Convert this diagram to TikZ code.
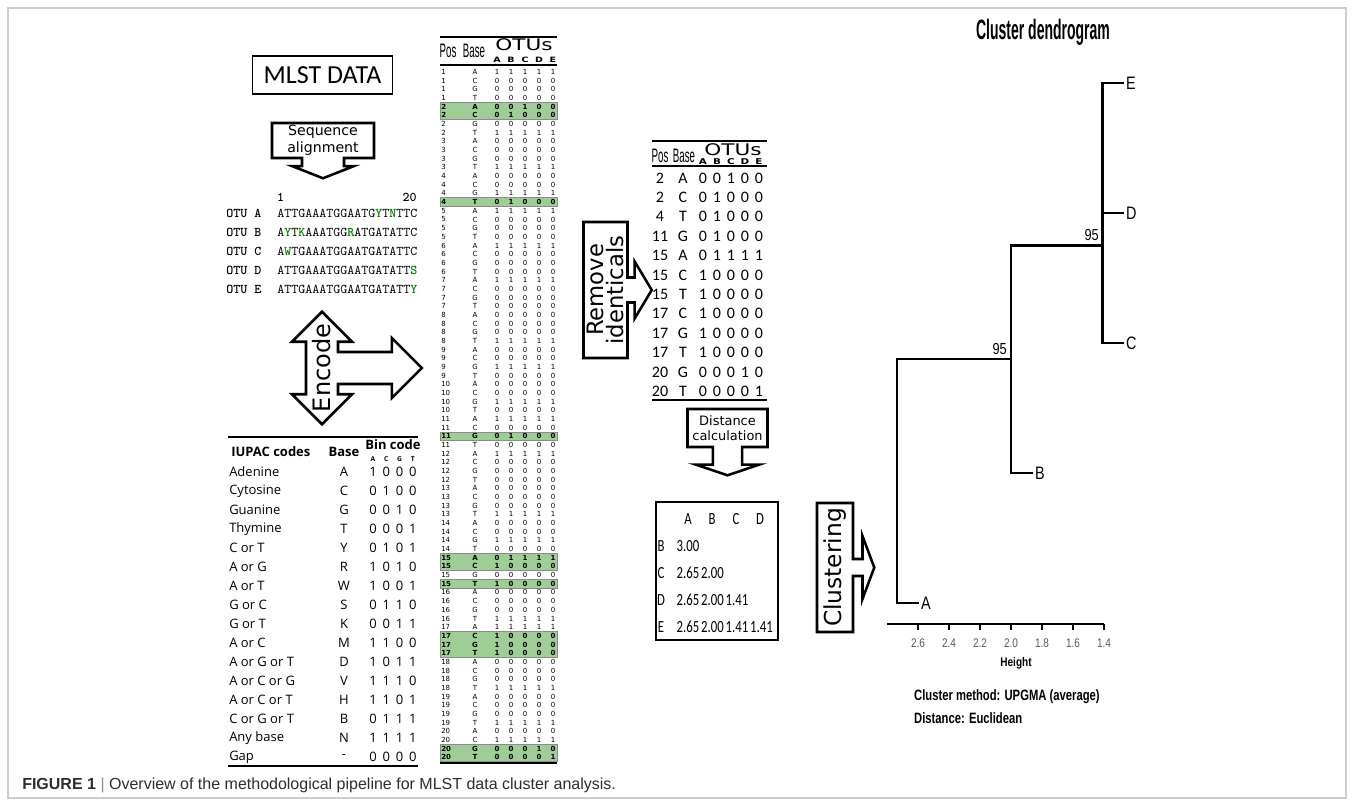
\documentclass[tikz,border=0pt]{standalone}
\usepackage{fontspec}
\setmainfont{Open Sans}
\newfontfamily\calib{Carlito}
\newfontfamily\verd{DejaVu Sans}
\newfontfamily\arialf{Liberation Sans}
\usetikzlibrary{shapes.arrows}
\definecolor{hlgreen}{RGB}{158,206,150}
\definecolor{hlline}{RGB}{140,140,140}
\definecolor{seqgreen}{RGB}{0,128,0}
\definecolor{framegray}{RGB}{205,205,205}
\definecolor{capgray}{RGB}{45,45,45}
\newcommand{\fsz}[2]{\fontsize{#1pt}{#2pt}\selectfont}
\newcommand{\mut}[1]{\textbf{\textcolor{seqgreen}{#1}}}
% rows that differ between OTUs: pos/base/row in block/A/B/C/D/E
\def\hlrows{2/A/1/0/0/1/0/0, 2/C/2/0/1/0/0/0, 4/T/4/0/1/0/0/0, 11/G/3/0/1/0/0/0, 15/A/1/0/1/1/1/1, 15/C/2/1/0/0/0/0, 15/T/4/1/0/0/0/0, 17/C/2/1/0/0/0/0, 17/G/3/1/0/0/0/0, 17/T/4/1/0/0/0/0, 20/G/3/0/0/0/1/0, 20/T/4/0/0/0/0/1}
\tikzset{
  callout/.style={arrow box, draw, line width=1.9pt, fill=white, align=center, inner sep=0pt},
  bt/.style={inner sep=0pt, font=\verd\fsz{5.25}{6}},
  bth/.style={inner sep=0pt, font=\verd\bfseries\fsz{5.25}{6}},
  st/.style={inner sep=0pt, font=\calib\fsz{12}{14}},
  iu/.style={inner sep=0pt, font=\fsz{9.75}{11}},
  iub/.style={inner sep=0pt, font=\bfseries\fsz{9.75}{11}},
  narrowhead/.style={inner sep=0pt, xscale=0.5, font=\arialf\fsz{14.6}{16}},
  otuhead/.style={inner sep=0pt, xscale=1.35, font=\verd\fsz{12}{13}},
  otuletter/.style={inner sep=0pt, xscale=1.3, font=\verd\bfseries\fsz{5.5}{6}},
  rulethick/.style={line width=1.9pt},
  rulethin/.style={line width=0.9pt},
  mono/.style={inner sep=0pt, font=\ttfamily\fsz{10}{12}},
  monob/.style={inner sep=0pt, font=\ttfamily\bfseries\fsz{10}{12}},
  dm/.style={inner sep=0pt, xscale=0.75, font=\calib\fsz{12.75}{14}},
  dend/.style={line width=2.2pt, line cap=rect},
  dlab/.style={inner sep=0pt, xscale=0.8, font=\arialf\fsz{13.5}{15}},
  tick/.style={inner sep=0pt, xscale=0.8, text=black!65, font=\arialf\fsz{9.4}{11}},
  dnote/.style={inner sep=0pt, xscale=0.75, font=\arialf\bfseries\fsz{11.25}{13}},
}
\begin{document}
\begin{tikzpicture}[x=0.75pt,y=-0.75pt]
\useasboundingbox (0,0) rectangle (1354,806);
\draw[framegray,line width=0.8pt] (8,8) rectangle (1346,798);
% raw data and alignment
\node[draw,line width=1.1pt,minimum width=105pt,minimum height=28.5pt,inner sep=0pt,font=\calib\fsz{19.5}{22}] (mlst) at (322.5,75) {MLST DATA};
\node[callout,minimum width=76.5pt,minimum height=26.25pt,arrow box arrows={south:14.25pt},arrow box shaft width=31.5pt,arrow box head extend=7.5pt,arrow box tip angle=137,font=\verd\fsz{10.6}{12.75}] (seqal) at (323,140.5) {Sequence\\alignment};
\node[monob] (pos1) at (280.5,197) {1};
\node[monob,anchor=east] (pos20) at (417,197) {20};
\foreach \o/\sq [count=\i] in {A/ATTGAAATGGAATG\mut{Y}T\mut{N}TTC, B/A\mut{Y}T\mut{K}AAATGG\mut{R}ATGATATTC, C/A\mut{W}TGAAATGGAATGATATTC, D/ATTGAAATGGAATGATATT\mut{S}, E/ATTGAAATGGAATGATATT\mut{Y}} {
  \node[monob,anchor=west] (otu\o) at (226,{213+(\i-1)*19}) {OTU \o};
  \node[mono,anchor=west] (seq\o) at (277,{213+(\i-1)*19}) {\sq};
}
\node[callout,rotate=90,minimum width=37.5pt,minimum height=24pt,inner xsep=-16pt,arrow box arrows={east:22.5pt,west:22.5pt,south:62pt},arrow box shaft width=24pt,arrow box head extend=10.5pt,arrow box tip angle=90,font=\verd\fsz{18}{20}] (encode) at (322,368) {Encode};
% IUPAC coding table
\draw[rulethick] (228,437) -- (418,437);
\node[iub,anchor=west] (iuh1) at (231,452) {IUPAC codes};
\node[iub] (iuh2) at (344,452) {Base};
\node[iub] (iuh3) at (393,445) {Bin code};
\foreach \l [count=\i] in {A,C,G,T} \node[iu,font=\bfseries\fsz{5}{6}] (iuc\i) at ({373+13.3*(\i-1)},459) {\l};
\foreach \nm/\bs/\va/\vb/\vc/\vd [count=\i] in {Adenine/A/1/0/0/0, Cytosine/C/0/1/0/0, Guanine/G/0/0/1/0, Thymine/T/0/0/0/1, C or T/Y/0/1/0/1, A or G/R/1/0/1/0, A or T/W/1/0/0/1, G or C/S/0/1/1/0, G or T/K/0/0/1/1, A or C/M/1/1/0/0, A or G or T/D/1/0/1/1, A or C or G/V/1/1/1/0, A or C or T/H/1/1/0/1, C or G or T/B/0/1/1/1, Any base/N/1/1/1/1, Gap/-/0/0/0/0} {
  \node[iu,anchor=west] (iun\i) at (229,{472+(\i-1)*19}) {\nm};
  \node[iu] (iub\i) at (344,{472+(\i-1)*19}) {\bs};
  \foreach \d [count=\cc] in {\va,\vb,\vc,\vd} \node[iu] (iuv\i-\cc) at ({373+13.3*(\cc-1)},{472+(\i-1)*19}) {\d};
}
\draw[rulethick] (228,766) -- (418,766);
% binary table, all positions
\foreach \p/\bs/\kk/\va/\vb/\vc/\vd/\ve in \hlrows {\expandafter\gdef\csname hl-\p\bs\endcsname{}}
\foreach \a/\n in {5/2,16/1,43/1,57/2,60/1,66/3,79/2}
  \draw[hlline,fill=hlgreen,line width=0.6pt] (440,{72+(\a-1)*8.674-4.337}) rectangle (557,{72+(\a+\n-2)*8.674+4.337});
\draw[rulethick] (440,37) -- (557,37);
\node[narrowhead] (bhpos) at (448,51) {Pos};
\node[narrowhead] (bhbase) at (474,51) {Base};
\node[otuhead] (bhotu) at (524,45) {OTUs};
\foreach \l [count=\cc] in {A,B,C,D,E} \node[otuletter] (bhl\l) at ({483+14*\cc},60) {\l};
\draw[rulethin] (440,65) -- (557,65);
\foreach \p/\cb in {1/A,2/T,3/T,4/G,5/A,6/A,7/A,8/T,9/G,10/G,11/A,12/A,13/T,14/G,15/A,16/T,17/A,18/T,19/T,20/C} {
  \foreach \bs [count=\kk] in {A,C,G,T} {
    \pgfmathsetmacro{\ry}{72+(4*(\p-1)+\kk-1)*8.674}
    \ifcsname hl-\p\bs\endcsname\else
      \edef\tmpa{\bs}\edef\tmpb{\cb}
      \ifx\tmpa\tmpb\def\dv{1}\else\def\dv{0}\fi
      \node[bt,anchor=west] (bp-\p\bs) at (441,\ry) {\p};
      \node[bt] (bb-\p\bs) at (475,\ry) {\bs};
      \foreach \cc in {1,...,5} \node[bt] (bv-\p\bs-\cc) at ({483+14*\cc},\ry) {\dv};
    \fi
  }
}
\foreach \p/\bs/\kk/\va/\vb/\vc/\vd/\ve in \hlrows {
  \pgfmathsetmacro{\ry}{72+(4*(\p-1)+\kk-1)*8.674}
  \node[bth,anchor=west] (bp-\p\bs) at (441,\ry) {\p};
  \node[bth] (bb-\p\bs) at (475,\ry) {\bs};
  \foreach \d [count=\cc] in {\va,\vb,\vc,\vd,\ve} \node[bth] (bv-\p\bs-\cc) at ({483+14*\cc},\ry) {\d};
}
\draw[rulethick] (440,763) -- (557,763);
% remove identical rows
\node[callout,rotate=90,minimum width=102pt,minimum height=33pt,arrow box arrows={south:17.25pt},arrow box shaft width=18.75pt,arrow box head extend=12pt,arrow box tip angle=118,font=\verd\fsz{17}{15}] (remid) at (605.5,290) {Remove\\identicals};
\draw[rulethick] (652,141) -- (767,141);
\node[narrowhead] (shpos) at (660,156) {Pos};
\node[narrowhead] (shbase) at (684,156) {Base};
\node[otuhead] (shotu) at (733,149.5) {OTUs};
\foreach \l [count=\cc] in {A,B,C,D,E} \node[otuletter,font=\verd\bfseries\fsz{6}{7}] (shl\l) at ({689+14*\cc},161.5) {\l};
\draw[rulethin] (652,166) -- (767,166);
\foreach \p/\bs/\kk/\va/\vb/\vc/\vd/\ve [count=\i] in \hlrows {
  \node[st] (sp-\i) at (660,{178+(\i-1)*19.4}) {\p};
  \node[st] (sb-\i) at (683,{178+(\i-1)*19.4}) {\bs};
  \foreach \d [count=\cc] in {\va,\vb,\vc,\vd,\ve} \node[st] (sv-\i-\cc) at ({689+14*\cc},{178+(\i-1)*19.4}) {\d};
}
\draw[rulethick] (652,400) -- (767,400);
% distances
\node[callout,minimum width=60pt,minimum height=28.5pt,arrow box arrows={south:20.25pt},arrow box shaft width=22pt,arrow box head extend=12.75pt,arrow box tip angle=143,font=\verd\fsz{9.7}{11.5}] (distc) at (727.5,428) {Distance\\calculation};
\node[draw,line width=1.1pt,minimum width=91.5pt,minimum height=103.5pt,inner sep=0pt] (dmat) at (717,571) {};
\foreach \l/\xx in {A/688,B/712,C/736,D/760} \node[dm] (dh\l) at (\xx,519) {\l};
\foreach \l [count=\n] in {B,C,D,E} \node[dm] (dr\l) at (661,{519+\n*27}) {\l};
\foreach \n/\cc/\v in {1/1/3.00, 2/1/2.65, 2/2/2.00, 3/1/2.65, 3/2/2.00, 3/3/1.41, 4/1/2.65, 4/2/2.00, 4/3/1.41, 4/4/1.41}
  \node[dm] (dv\n-\cc) at ({688+24.5*(\cc-1)},{519+\n*27}) {\v};
% clustering and dendrogram
\node[callout,rotate=90,minimum width=96.75pt,minimum height=27pt,arrow box arrows={south:15pt},arrow box shaft width=12.75pt,arrow box head extend=17.25pt,arrow box tip angle=139,font=\verd\fsz{17.5}{19}] (clus) at (835,567.5) {Clustering};
\node[inner sep=0pt,xscale=0.5,font=\arialf\bfseries\fsz{21}{24}] (dtitle) at (1043,32) {Cluster dendrogram};
\foreach \l/\xx/\yy in {E/1126/83,D/1126/213,C/1126/343,B/1035/473,A/921/603} {
  \node[dlab,anchor=west] (l\l) at (\xx,\yy) {\l};
  \coordinate (t\l) at ({\xx-3},\yy);
}
\coordinate (n1) at (1102.5,245.5);
\coordinate (n2) at (1011,359);
\coordinate (n3) at (897,481);
\draw[dend] (tE) -| (n1) |- (tC);
\draw[dend] (tD) -- (tD -| n1);
\draw[dend] (n1) -| (n2) |- (tB);
\draw[dend] (n2) -| (n3) |- (tA);
\node[dlab,anchor=south east,font=\arialf\fsz{12}{14}] (bs1) at (1099,241) {95};
\node[dlab,anchor=south east,font=\arialf\fsz{12}{14}] (bs2) at (1007,355) {95};
\draw[line width=1pt] (887,624) -- (1104,624);
\foreach \h [count=\i] in {2.6,2.4,2.2,2.0,1.8,1.6,1.4} {
  \draw[line width=1pt] ({1104-(\h-1.4)*155},624) -- ({1104-(\h-1.4)*155},630);
  \node[tick] (tk\i) at ({1104-(\h-1.4)*155},643) {\h};
}
\node[tick,text=black,font=\arialf\bfseries\fsz{9.4}{11}] (hgt) at (1016,663) {Height};
\node[dnote,anchor=west] (meth) at (914,697) {Cluster method: UPGMA (average)};
\node[dnote,anchor=west] (dist) at (914,718) {Distance: Euclidean};
% caption
\node[inner sep=0pt,anchor=west,text=capgray,font=\arialf\fsz{12}{14}] (cap) at (22,785) {\textbf{FIGURE 1} \textcolor{black!45}{|} Overview of the methodological pipeline for MLST data cluster analysis.};
\end{tikzpicture}
\end{document}
